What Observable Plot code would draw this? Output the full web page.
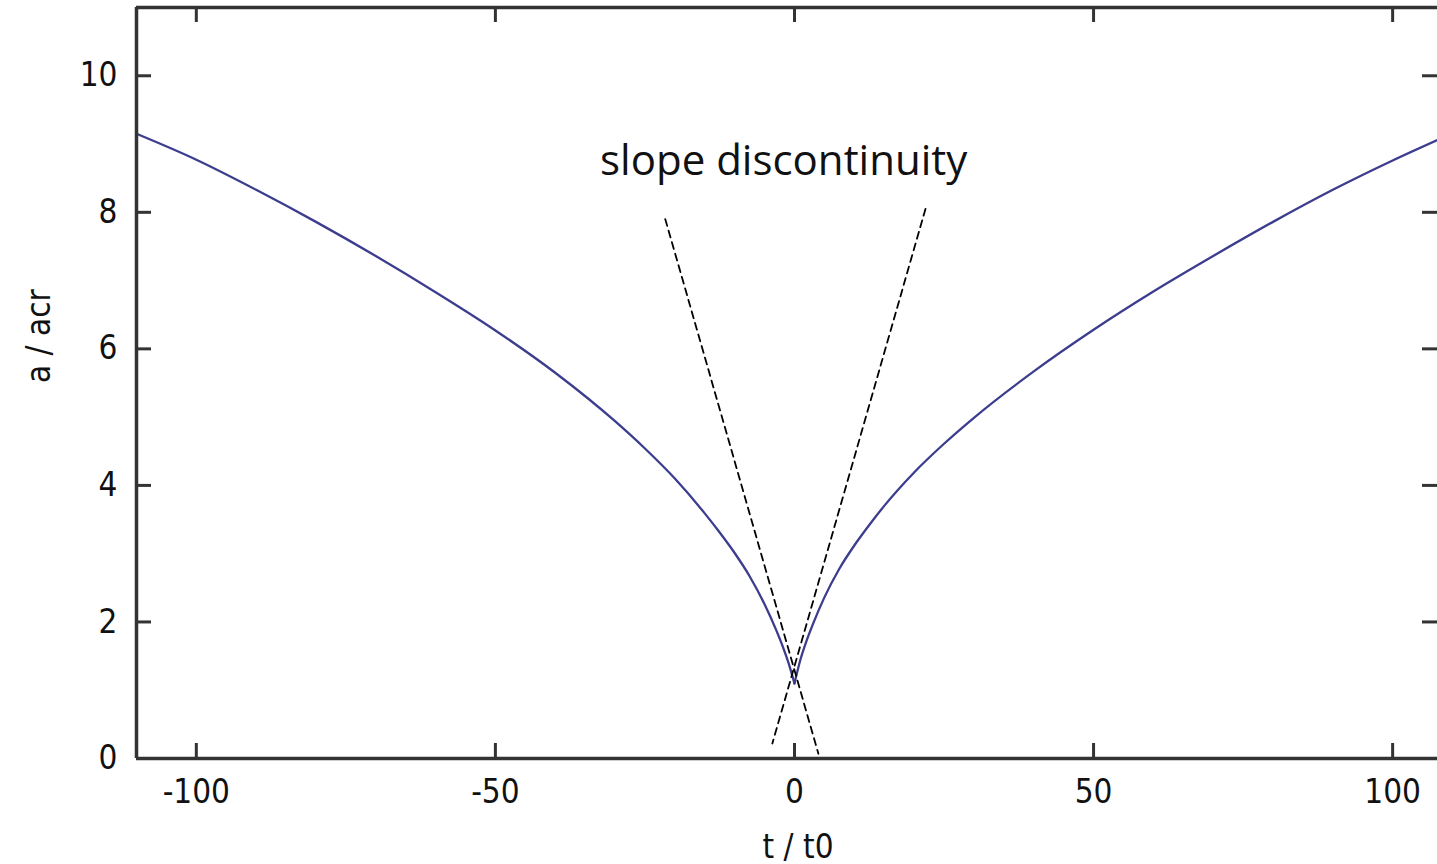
<!DOCTYPE html>
<html>
<head>
<meta charset="utf-8">
<script src="https://cdn.jsdelivr.net/npm/d3@7"></script>
<script src="https://cdn.jsdelivr.net/npm/@observablehq/plot@0.6"></script>
<style>
  html, body { margin: 0; padding: 0; background: #fff; }
  #chart svg { display: block; }
</style>
</head>
<body>
<div id="chart"></div>
<script>
// Left branch (t < 0) of a / acr
const tLeft = [-110, -100, -90, -80, -70, -60, -50, -40, -30, -25, -20, -15, -12.5, -10, -7.5, -5, -3, -2, -1, 0];
const aLeft = [9.15, 8.77, 8.33, 7.86, 7.36, 6.83, 6.27, 5.65, 4.94, 4.54, 4.10, 3.59, 3.31, 3.01, 2.67, 2.26, 1.87, 1.65, 1.40, 1.10];
// Right branch (t > 0)
const tRight = [0, 1, 2, 3, 5, 7.5, 10, 12.5, 15, 20, 25, 30, 40, 50, 60, 70, 80, 90, 100, 107.5];
const aRight = [1.10, 1.45, 1.72, 1.95, 2.36, 2.78, 3.12, 3.42, 3.70, 4.19, 4.61, 4.99, 5.67, 6.28, 6.84, 7.36, 7.86, 8.33, 8.76, 9.06];

// Dashed tangent lines (endpoints in data units)
const dash1T = [-21.6, 4.0];
const dash1A = [7.90, 0.07];
const dash2T = [21.9, -3.7];
const dash2A = [8.05, 0.22];

const xTicks = [-100, -50, 0, 50, 100];
const yTicks = [0, 2, 4, 6, 8, 10];
const xDomain = [-110, 107.5];
const yDomain = [0, 11];

const noteText = "slope discontinuity";
const noteT = -1.8;
const noteA = 8.75;
const xLabel = "t / t0";
const yLabel = "a / acr";

const curveRows = [
  ...tLeft.map((t, i) => ({t, a: aLeft[i], side: "left"})),
  ...tRight.map((t, i) => ({t, a: aRight[i], side: "right"}))
];
const dashRows = [
  ...dash1T.map((t, i) => ({t, a: dash1A[i], id: 1})),
  ...dash2T.map((t, i) => ({t, a: dash2A[i], id: 2}))
];

const W = 1437, H = 864;
const mL = 136, mR = 0, mT = 7, mB = 106;
const frameH = H - mT - mB;
const frameW = W - mL - mR;
const tickLen = 15;
const axisColor = "#333";
const tickFont = "'DejaVu Sans Condensed', 'DejaVu Sans', sans-serif";

const chart = Plot.plot({
  width: W,
  height: H,
  marginLeft: mL,
  marginRight: mR,
  marginTop: mT,
  marginBottom: mB,
  x: {domain: xDomain},
  y: {domain: yDomain},
  style: {background: "#fff", fontFamily: tickFont},
  marks: [
    // curve
    Plot.line(curveRows, {x: "t", y: "a", z: "side", curve: "monotone-x", stroke: "#3d3d8f", strokeWidth: 2.3}),
    // dashed lines
    Plot.line(dashRows, {x: "t", y: "a", z: "id", stroke: "#000", strokeWidth: 1.8, strokeDasharray: "7,5"}),
    // frame (left, bottom, top)
    Plot.ruleX([xDomain[0]], {stroke: axisColor, strokeWidth: 3.5}),
    Plot.ruleY([yDomain[0], yDomain[1]], {stroke: axisColor, strokeWidth: 3.5}),
    // inward ticks
    Plot.tickX(xTicks, {x: d => d, insetTop: frameH - tickLen, stroke: axisColor, strokeWidth: 3}),
    Plot.tickX(xTicks, {x: d => d, insetBottom: frameH - tickLen, stroke: axisColor, strokeWidth: 3}),
    Plot.tickY(yTicks, {y: d => d, insetRight: frameW - tickLen, stroke: axisColor, strokeWidth: 3}),
    Plot.tickY(yTicks, {y: d => d, insetLeft: frameW - tickLen, stroke: axisColor, strokeWidth: 3}),
    // tick labels
    Plot.axisX({ticks: xTicks, tickSize: 0, tickPadding: 21, fontSize: 33, fontFamily: tickFont, fill: "#111", tickFormat: d => String(d), label: null}),
    Plot.axisY({ticks: yTicks, tickSize: 0, tickPadding: 19, fontSize: 33, fontFamily: tickFont, fill: "#111", tickFormat: d => String(d), label: null}),
    // axis labels
    Plot.text([yLabel], {frameAnchor: "left", dx: -97, rotate: -90, fontSize: 33, fontFamily: tickFont, fill: "#111", text: d => d}),
    Plot.text([xLabel], {frameAnchor: "bottom", dx: 11, dy: 99, fontSize: 33, fontFamily: tickFont, fill: "#111", text: d => d}),
    // annotation
    Plot.text([noteText], {x: () => noteT, y: () => noteA, text: d => d, fontSize: 42, fontFamily: "'Open Sans', sans-serif", fill: "#111"})
  ]
});

document.getElementById("chart").append(chart);
</script>
</body>
</html>
